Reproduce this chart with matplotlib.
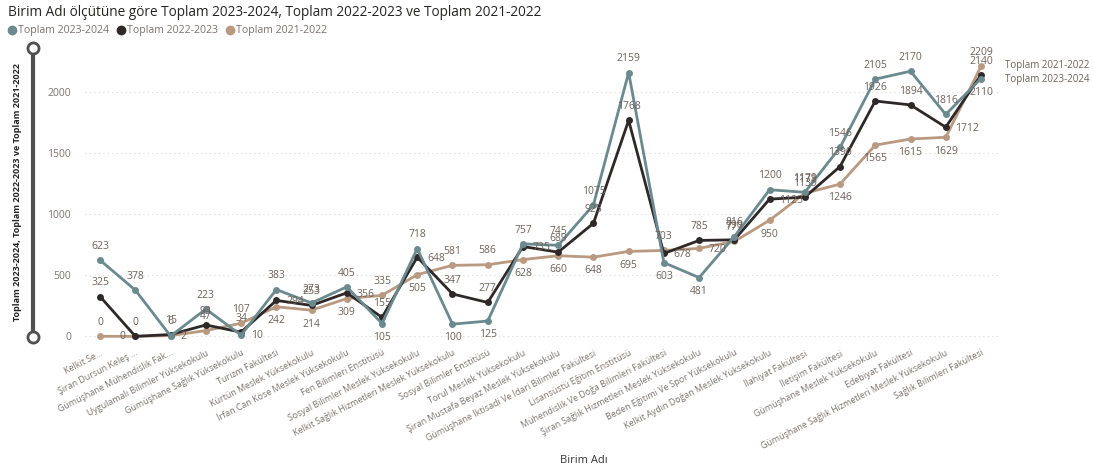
"""
Birim Adı ölçütüne göre Toplam 2023-2024, 2022-2023 ve 2021-2022
Power BI tarzı çizgi grafiği.
"""

import matplotlib.pyplot as plt
from matplotlib.lines import Line2D

plt.rcParams["font.family"] = ["Open Sans", "DejaVu Sans"]

# ── Data ──────────────────────────────────────────────────────────────────────
BIRIMLER = [
    "Kelkit Se...",
    "Şiran Dursun Keleş ...",
    "Gümüşhane Mühendislik Fak...",
    "Uygulamalı Bilimler Yüksekokulu",
    "Gümüşhane Sağlık Yüksekokulu",
    "Turizm Fakültesi",
    "Kürtün Meslek Yüksekokulu",
    "İrfan Can Köse Meslek Yüksekokulu",
    "Fen Bilimleri Enstitüsü",
    "Sosyal Bilimler Meslek Yüksekokulu",
    "Kelkit Sağlık Hizmetleri Meslek Yüksekokulu",
    "Sosyal Bilimler Enstitüsü",
    "Torul Meslek Yüksekokulu",
    "Şiran Mustafa Beyaz Meslek Yüksekokulu",
    "Gümüşhane İktisadi Ve İdari Bilimler Fakültesi",
    "Lisansüstü Eğitim Enstitüsü",
    "Mühendislik Ve Doğa Bilimleri Fakültesi",
    "Şiran Sağlık Hizmetleri Meslek Yüksekokulu",
    "Beden Eğitimi Ve Spor Yüksekokulu",
    "Kelkit Aydın Doğan Meslek Yüksekokulu",
    "İlahiyat Fakültesi",
    "İletişim Fakültesi",
    "Gümüşhane Meslek Yüksekokulu",
    "Edebiyat Fakültesi",
    "Gümüşhane Sağlık Hizmetleri Meslek Yüksekokulu",
    "Sağlık Bilimleri Fakültesi",
]

TOPLAM_2023_2024 = [623, 378, 2, 223, 10, 383, 273, 405, 105, 718, 100, 125, 757,
                    745, 1075, 2159, 603, 481, 816, 1200, 1179, 1546, 2105, 2170,
                    1816, 2110]
TOPLAM_2022_2023 = [325, 0, 15, 93, 34, 294, 253, 356, 155, 648, 347, 277, 735,
                    689, 925, 1768, 678, 785, 790, 1123, 1139, 1390, 1926, 1894,
                    1712, 2140]
TOPLAM_2021_2022 = [0, 0, 6, 47, 107, 242, 214, 309, 335, 505, 581, 586, 628,
                    660, 648, 695, 703, 720, 777, 950, 1171, 1246, 1565, 1615,
                    1629, 2209]

SERIES = [
    ("Toplam 2023-2024", TOPLAM_2023_2024, "#6A8A8F"),
    ("Toplam 2022-2023", TOPLAM_2022_2023, "#2E2828"),
    ("Toplam 2021-2022", TOPLAM_2021_2022, "#B99A80"),
]

Y_TICKS = [0, 500, 1000, 1500, 2000]

LABEL_COLOR = "#6E625B"
TICK_COLOR = "#7A7370"


def _label(ax, i, v, dx, dy, ha, va):
    ax.annotate(str(v), (i, v), xytext=(dx, dy), textcoords="offset points",
                ha=ha, va=va, fontsize=7.5, color=LABEL_COLOR, zorder=5)


def main() -> None:
    W, H = 1093, 465
    fig = plt.figure(figsize=(W / 100, H / 100), dpi=100)
    ax = fig.add_axes([85 / W, 1 - 340 / H, 915 / W, 292 / H])

    x = list(range(len(BIRIMLER)))

    # lines (draw tan first so darker series sit on top)
    for name, vals, color in reversed(SERIES):
        ax.plot(x, vals, color=color, lw=2, marker="o", ms=5,
                markeredgewidth=0, zorder=3, label=name)

    # data labels: highest above, lowest below, a crowded middle one to the right
    for i in x:
        order = sorted((s[1][i], k) for k, s in enumerate(SERIES))
        for rank, (v, k) in enumerate(order):
            if rank == 0 and order[-1][0] - v > 40 and v > 60:
                _label(ax, i, v, 0, -6, "center", "top")
            elif rank == 1 and order[2][0] - v < 120 and v - order[0][0] > 40:
                _label(ax, i, v, 7, -1, "left", "center")
            elif rank == 0 and v <= 60 and order[1][0] < 60:
                _label(ax, i, v, -7 if k == 1 else 7, 0,
                        "right" if k == 1 else "left", "center")
            else:
                _label(ax, i, v, 0, 6, "center", "bottom")

    # end-of-line series names
    last = len(BIRIMLER) - 1
    ax.annotate("Toplam 2021-2022", (last, TOPLAM_2021_2022[-1]),
                xytext=(17, 1), textcoords="offset points", ha="left",
                va="center", fontsize=7, color=LABEL_COLOR)
    ax.annotate("Toplam 2023-2024", (last, TOPLAM_2023_2024[-1]),
                xytext=(17, -1), textcoords="offset points", ha="left",
                va="center", fontsize=7, color=LABEL_COLOR)

    ax.set_xlim(-0.43, len(BIRIMLER) - 1 + 0.54)
    ax.set_ylim(-30, 2360)
    ax.set_yticks(Y_TICKS)
    ax.set_yticklabels([str(t) for t in Y_TICKS])
    ax.set_xticks(x)
    ax.set_xticklabels(BIRIMLER, rotation=27, ha="right",
                       rotation_mode="anchor", fontsize=6.4, color=TICK_COLOR)
    ax.tick_params(axis="both", length=0)
    ax.tick_params(axis="y", labelsize=7.5, labelcolor=TICK_COLOR, pad=10)
    ax.tick_params(axis="x", pad=6)
    ax.grid(axis="y", color="#D8D8D8", lw=0.8, ls=(0, (1, 3)))
    ax.set_axisbelow(True)
    for sp in ax.spines.values():
        sp.set_visible(False)

    ax.set_xlabel("Birim Adı", fontsize=8, color="#333333", labelpad=4)
    ax.xaxis.set_label_coords(0.545, -0.395)

    # title and legend
    fig.text(8 / W, 1 - 13 / H,
             "Birim Adı ölçütüne göre Toplam 2023-2024, Toplam 2022-2023 ve Toplam 2021-2022",
             fontsize=9.8, color="#252423", va="center", ha="left")
    handles = [Line2D([], [], color=c, marker="o", ls="", ms=6) for _, _, c in SERIES]
    fig.legend(handles, [n for n, _, _ in SERIES], loc="center left",
               bbox_to_anchor=(2 / W, 1 - 31 / H), ncol=3, frameon=False,
               fontsize=7.6, labelcolor=TICK_COLOR, handletextpad=0.1,
               columnspacing=0.6, handlelength=1.0, borderaxespad=0)

    # y axis title
    fig.text(18 / W, 1 - 192 / H,
             "Toplam 2023-2024, Toplam 2022-2023 ve Toplam 2021-2022",
             rotation=90, fontsize=6.5, color="#252423", fontweight="bold",
             ha="center", va="center")

    # zoom slider on the left
    slider_x = 33 / W
    fig.add_artist(Line2D([slider_x, slider_x], [1 - 52 / H, 1 - 333 / H],
                          color="#505050", lw=3, transform=fig.transFigure))
    for yy in (48, 337):
        fig.add_artist(Line2D([slider_x], [1 - yy / H], marker="o", ms=8,
                              mfc="white", mec="#505050", mew=2,
                              transform=fig.transFigure))

    fig.savefig("out.png", dpi=100)


if __name__ == "__main__":
    main()
